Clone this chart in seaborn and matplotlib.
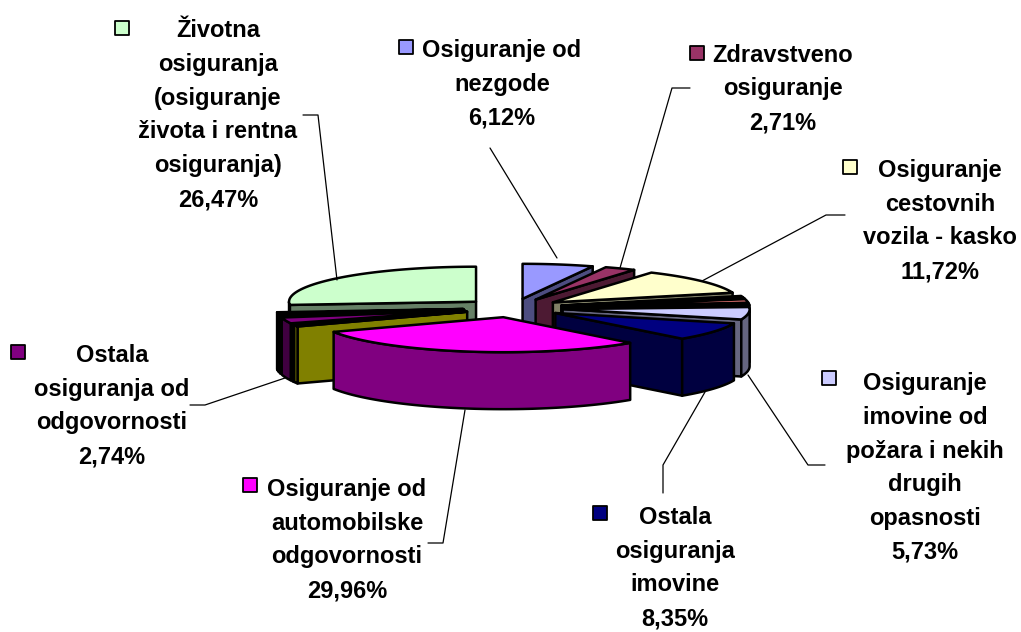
import numpy as np
import matplotlib
matplotlib.use('Agg')
import matplotlib.pyplot as plt
import seaborn as sns

# clockwise from 12 o'clock, thin unlabeled slices are estimated
shares = [6.12, 2.71, 11.72, 0.6, 0.5, 1.6, 0.8, 5.73, 8.35, 29.96,
          0.7, 0.3, 2.74, 0.7, 0.5, 0.5, 26.47]
slice_colors = ['#9999FF', '#993366', '#FFFFCC', '#CCFFFF', '#660066', '#FF8080',
                '#0066CC', '#CCCCFF', '#000080', '#FF00FF', '#FFFF00', '#00FFFF',
                '#800080', '#800000', '#008080', '#0000FF', '#CCFFCC']

labels = ['Osiguranje od\nnezgode\n6,12%',
          'Zdravstveno\nosiguranje\n2,71%',
          'Osiguranje\ncestovnih\nvozila - kasko\n11,72%',
          'Osiguranje\nimovine od\npožara i nekih\ndrugih\nopasnosti\n5,73%',
          'Ostala\nosiguranja\nimovine\n8,35%',
          'Osiguranje od\nautomobilske\nodgovornosti\n29,96%',
          'Ostala\nosiguranja od\nodgovornosti\n2,74%',
          'Životna\nosiguranja\n(osiguranje\nživota i rentna\nosiguranja)\n26,47%']
label_colors = ['#9999FF', '#993366', '#FFFFCC', '#CCCCFF', '#000080', '#FF00FF', '#800080', '#CCFFCC']
label_pos = [(502, 84), (783, 89), (940, 221), (925, 468), (675, 568), (347, 540), (112, 406), (218, 115)]
key_pos = [(406, 47), (697, 53), (850, 167), (829, 378), (600, 513), (250, 485), (18, 352), (122, 28)]
leaders = [[(490, 148), (557, 258)],
           [(690, 88), (672, 88), (620, 268)],
           [(845, 215), (826, 215), (702, 281)],
           [(748, 375), (808, 465), (825, 465)],
           [(705, 392), (663, 465), (663, 493)],
           [(465, 410), (443, 543), (428, 543)],
           [(285, 378), (205, 405), (190, 405)],
           [(303, 115), (318, 115), (337, 280)]]

# pie geometry in pixels
cx, cy = 513, 308
rx, ry = 187, 35
depth = 57
explode = 50


def rim(x0, y0, angles):
    a = np.radians(angles)
    return x0 + rx * np.sin(a), y0 - ry * np.cos(a)


def draw_slice(ax, start, end, color):
    mid = np.radians((start + end) / 2)
    x0 = cx + explode * np.sin(mid)
    y0 = cy - explode * ry / rx * np.cos(mid)
    dark = tuple(c * 0.5 for c in color)
    style = dict(edgecolor='black', linewidth=1.8, joinstyle='round')

    # radial walls
    if np.sin(np.radians(start)) < 0:
        x, y = rim(x0, y0, np.array([start]))
        ax.fill([x0, x[0], x[0], x0], [y0, y[0], y[0] + depth, y0 + depth], facecolor=dark, **style)
    if np.sin(np.radians(end)) > 0:
        x, y = rim(x0, y0, np.array([end]))
        ax.fill([x0, x[0], x[0], x0], [y0, y[0], y[0] + depth, y0 + depth], facecolor=dark, **style)

    # outer wall, only the part turned to the viewer
    lo, hi = max(start, 90), min(end, 270)
    if hi > lo:
        x, y = rim(x0, y0, np.linspace(lo, hi, 60))
        ax.fill(np.r_[x, x[::-1]], np.r_[y, y[::-1] + depth], facecolor=dark, **style)

    # top
    x, y = rim(x0, y0, np.linspace(start, end, 80))
    ax.fill(np.r_[x0, x], np.r_[y0, y], facecolor=color, **style)


sns.set_theme(style='white')
plt.rcParams['font.family'] = ['Liberation Sans', 'DejaVu Sans']

fig, ax = plt.subplots(figsize=(10.21, 6.32), dpi=100)
fig.subplots_adjust(0, 0, 1, 1)
ax.set_xlim(0, 1021)
ax.set_ylim(632, 0)
ax.set_axis_off()

palette = sns.color_palette(slice_colors)
edges = np.r_[0, np.cumsum(shares)] / np.sum(shares) * 360
order = sorted(range(len(shares)), key=lambda i: -np.cos(np.radians((edges[i] + edges[i + 1]) / 2)))
for i in order:
    draw_slice(ax, edges[i], edges[i + 1], palette[i])

for line in leaders:
    xs, ys = zip(*line)
    ax.plot(xs, ys, color='black', lw=0.9)

for text, pos, key, col in zip(labels, label_pos, key_pos, label_colors):
    ax.text(pos[0], pos[1], text, ha='center', va='center', fontsize=17,
            fontweight='bold', color='black', linespacing=1.6)
    ax.scatter([key[0]], [key[1]], marker='s', s=90, color=col, edgecolor='black', linewidth=1.3)

fig.savefig('out.png', dpi=100)
